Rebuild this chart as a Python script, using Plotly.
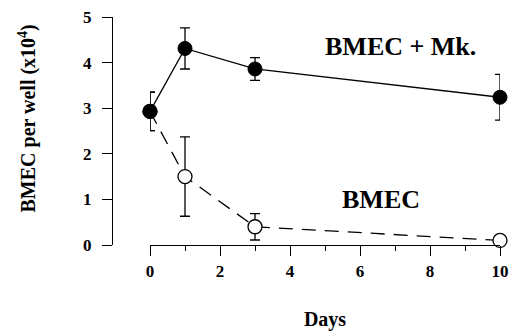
import plotly.graph_objects as go

days = [0, 1, 3, 10]
mk_vals = [2.93, 4.31, 3.86, 3.24]
mk_err = [0.42, 0.45, 0.25, 0.50]
bmec_vals = [2.93, 1.50, 0.40, 0.10]
bmec_err = [0.42, 0.87, 0.29, 0.08]
x_ticks = [0, 2, 4, 6, 8, 10]
y_ticks = [0, 1, 2, 3, 4, 5]

FONT = "Liberation Serif"

fig = go.Figure()
fig.add_trace(go.Scatter(
    x=days, y=bmec_vals, mode="lines+markers", name="BMEC",
    line=dict(color="black", width=1.3, dash="14px,9px"),
    marker=dict(symbol="circle", size=14, color="white", line=dict(color="black", width=1.3)),
    error_y=dict(type="data", array=bmec_err, visible=True, color="black", thickness=1.3, width=5),
    cliponaxis=False, showlegend=False,
))
fig.add_trace(go.Scatter(
    x=days, y=mk_vals, mode="lines+markers", name="BMEC + Mk.",
    line=dict(color="black", width=1.3),
    marker=dict(symbol="circle", size=14, color="black", line=dict(color="black", width=1)),
    error_y=dict(type="data", array=mk_err, visible=True, color="black", thickness=1.3, width=5),
    cliponaxis=False, showlegend=False,
))

fig.add_annotation(x=7.17, y=4.35, xref="x", yref="y", text="<b>BMEC + Mk.</b>",
                   showarrow=False, font=dict(family=FONT, size=26, color="black"))
fig.add_annotation(x=6.6, y=1.0, xref="x", yref="y", text="<b>BMEC</b>",
                   showarrow=False, font=dict(family=FONT, size=26, color="black"))
fig.add_annotation(x=-0.219, y=0.555, xref="paper", yref="paper",
                   xanchor="center", yanchor="middle",
                   text="<b>BMEC per well (x10<sup>4</sup>)</b>", textangle=-90,
                   showarrow=False, font=dict(family=FONT, size=20, color="black"))

fig.update_layout(
    width=509, height=333,
    margin=dict(l=112, r=9, t=17, b=88, autoexpand=False),
    plot_bgcolor="white", paper_bgcolor="white",
    font=dict(family=FONT, color="black"),
    xaxis=dict(
        domain=[38 / 388, 1], range=[0, 10], automargin=False,
        tickvals=x_ticks, ticktext=[f"<b>{v}</b>" for v in x_ticks],
        ticks="outside", ticklen=10, tickwidth=1.3, tickcolor="black",
        minor=dict(dtick=1, ticks="outside", ticklen=5, tickwidth=1.3, tickcolor="black", showgrid=False),
        showline=True, linecolor="black", linewidth=1.3,
        showgrid=False, zeroline=False, ticklabeloverflow="allow",
        tickfont=dict(family=FONT, size=17, color="black"),
        title=dict(text="<b>Days</b>", font=dict(family=FONT, size=20, color="black"), standoff=32),
    ),
    yaxis=dict(
        range=[0, 5], anchor="free", position=0, automargin=False,
        tickvals=y_ticks, ticktext=[f"<b>{v}</b>" for v in y_ticks],
        ticks="outside", ticklen=10, tickwidth=1.3, tickcolor="black",
        ticklabelstandoff=7,
        showline=True, linecolor="black", linewidth=1.3,
        showgrid=False, zeroline=False, ticklabeloverflow="allow",
        tickfont=dict(family=FONT, size=17, color="black"),
    ),
)

fig.write_html("out.html", config={"displayModeBar": False},
               post_script="document.body.style.margin='0';document.body.style.overflow='hidden';")
